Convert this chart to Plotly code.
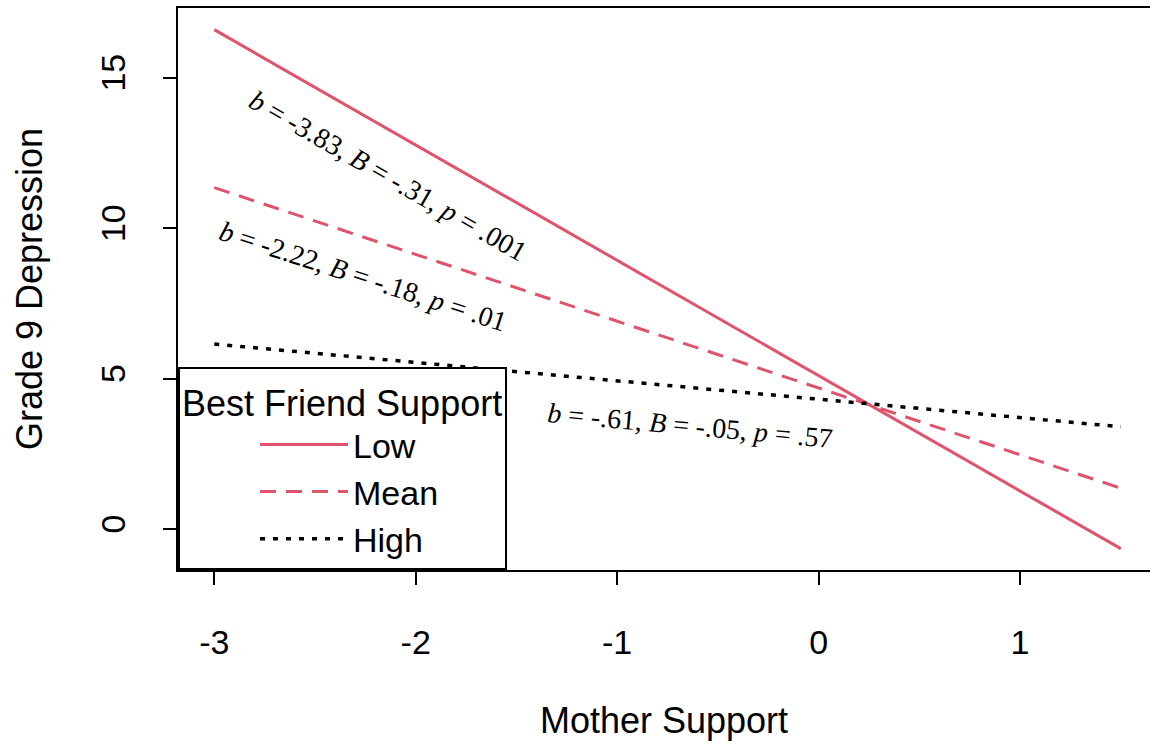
import plotly.graph_objects as go

# Data: simple slopes at Mother Support -3 and 1.5
mother_support = [-3.0, 1.5]
low_values = [16.6, -0.65]
mean_values = [11.35, 1.36]
high_values = [6.15, 3.40]
series_names = ["Low", "Mean", "High"]

ann_texts = [
    "<i>b</i> = -3.83, <i>B</i> = -.31, <i>p</i> = .001",
    "<i>b</i> = -2.22, <i>B</i> = -.18, <i>p</i> = .01",
    "<i>b</i> = -.61, <i>B</i> = -.05, <i>p</i> = .57",
]
ann_x = [-2.14, -2.26, -0.64]
ann_y = [11.75, 8.4, 3.45]
ann_angle = [29.8, 18.0, 5.2]

x_ticks = [-3, -2, -1, 0, 1]
x_tick_text = ["-3", "-2", "-1", "0", "1"]
y_ticks = [0, 5, 10, 15]
y_tick_text = ["0", "5", "10", "15"]

RED = "#DF536B"
SANS = "Liberation Sans, Arial, sans-serif"
SERIF = "Liberation Serif, Times New Roman, serif"

fig = go.Figure()
fig.add_trace(go.Scatter(x=mother_support, y=low_values, mode="lines", name=series_names[0],
                         line=dict(color=RED, width=3)))
fig.add_trace(go.Scatter(x=mother_support, y=mean_values, mode="lines", name=series_names[1],
                         line=dict(color=RED, width=3, dash="16px,10px")))
fig.add_trace(go.Scatter(x=mother_support, y=high_values, mode="lines", name=series_names[2],
                         line=dict(color="black", width=3.5, dash="5px,8px")))

for t, x, y, a in zip(ann_texts, ann_x, ann_y, ann_angle):
    fig.add_annotation(x=x, y=y, text=t, textangle=a, showarrow=False,
                       font=dict(family=SERIF, size=28, color="black"))

fig.update_layout(
    width=1150, height=747,
    margin=dict(l=178, r=0, t=8, b=177),
    plot_bgcolor="white", paper_bgcolor="white",
    font=dict(family=SANS, size=33, color="black"),
    showlegend=True,
    legend=dict(
        x=0, y=0, xanchor="left", yanchor="bottom", xref="paper", yref="paper",
        bgcolor="white", bordercolor="black", borderwidth=2,
        title=dict(text="Best Friend Support", font=dict(family=SANS, size=36)),
        font=dict(family=SANS, size=34),
        indentation=75, itemwidth=88,
    ),
)
fig.update_xaxes(
    range=[-3.18, 1.645], tickvals=x_ticks, ticktext=x_tick_text, ticks="outside",
    ticklen=13, tickwidth=1.5, tickcolor="black", showline=True, linecolor="black",
    linewidth=1.5, mirror=True, showgrid=False, zeroline=False, ticklabelstandoff=28,
    tickfont=dict(size=34),
    title=dict(text="Mother Support", standoff=48, font=dict(family=SANS, size=36)),
)
fig.update_yaxes(
    range=[-1.36, 17.32], tickvals=y_ticks, ticktext=y_tick_text, ticks="outside",
    ticklen=13, tickwidth=1.5, tickcolor="black", showline=True, linecolor="black",
    linewidth=1.5, mirror=False, showgrid=False, zeroline=False, tickangle=-90,
    ticklabelstandoff=25, tickfont=dict(size=34),
    title=dict(text="Grade 9 Depression", standoff=40, font=dict(family=SANS, size=36)),
)

fig.write_html("out.html")
